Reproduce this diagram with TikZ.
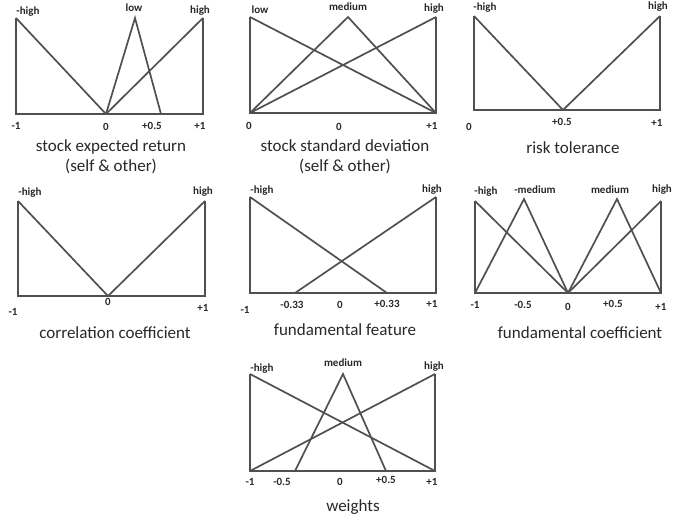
\documentclass[tikz,border=0pt]{standalone}
\usepackage{fontspec}
\setmainfont{Carlito}
\usepackage{xcolor}
\definecolor{mfgray}{RGB}{80,80,80}
\definecolor{mftext}{RGB}{40,40,40}
\usepackage{tikz}
\usetikzlibrary{positioning}

\begin{document}
\begin{tikzpicture}[x=1pt, y=-1pt,
    mfline/.style={draw=mfgray, line width=1.7pt, line join=miter},
    tag/.style={font=\fontsize{11}{12}\selectfont\bfseries, text=mftext, inner sep=0pt},
    tick/.style={font=\fontsize{11}{12}\selectfont\bfseries, text=mftext, inner sep=0pt},
    caption/.style={font=\fontsize{17}{20}\selectfont, text=mftext, align=center, inner sep=0pt}]
  \useasboundingbox (0,0) rectangle (697,519);

  % stock expected return
  \draw[mfline] (16,18) -- (16,114) -- (203,114) -- (203,18);
  \draw[mfline] (16,18) -- (106,114);
  \draw[mfline] (106,114) -- (135,18) -- (161,114);
  \draw[mfline] (106,114) -- (203,18);
  \node[tag] (ser-nh) at (28,12) {-high};
  \node[tag] (ser-lo) at (134,8) {low};
  \node[tag] (ser-hi) at (200,11) {high};
  \node[tick] (ser-t1) at (16,126) {-1};
  \node[tick] (ser-t2) at (106,127) {0};
  \node[tick] (ser-t3) at (152,126) {+0.5};
  \node[tick] (ser-t4) at (200,126) {+1};
  \node[caption] (ser) at (111,157) {stock expected return\\(self \& other)};

  % stock standard deviation
  \draw[mfline] (250,17) -- (250,113) -- (436,113) -- (436,17);
  \draw[mfline] (250,17) -- (436,113);
  \draw[mfline] (250,113) -- (348,17) -- (436,113);
  \draw[mfline] (250,113) -- (436,17);
  \node[tag] (ssd-lo) at (260,10) {low};
  \node[tag] (ssd-md) at (348,7) {medium};
  \node[tag] (ssd-hi) at (434,9) {high};
  \node[tick] (ssd-t1) at (249,126) {0};
  \node[tick] (ssd-t2) at (339,127) {0};
  \node[tick] (ssd-t3) at (432,126) {+1};
  \node[caption] (ssd) at (345,157) {stock standard deviation\\(self \& other)};

  % risk tolerance
  \draw[mfline] (474,16) -- (474,110) -- (660,110) -- (660,16);
  \draw[mfline] (474,16) -- (563,110) -- (660,16);
  \node[tag] (rt-nh) at (485,8) {-high};
  \node[tag] (rt-hi) at (658,7) {high};
  \node[tick] (rt-t1) at (469,127) {0};
  \node[tick] (rt-t2) at (562,122) {+0.5};
  \node[tick] (rt-t3) at (657,123) {+1};
  \node[caption] (rt) at (573,148) {risk tolerance};

  % correlation coefficient
  \draw[mfline] (18,201) -- (18,296) -- (205,296) -- (205,201);
  \draw[mfline] (18,201) -- (108,296) -- (205,201);
  \node[tag] (cc-nh) at (30,193) {-high};
  \node[tag] (cc-hi) at (203,192) {high};
  \node[tick] (cc-t1) at (13,312) {-1};
  \node[tick] (cc-t2) at (108,302) {0};
  \node[tick] (cc-t3) at (203,308) {+1};
  \node[caption] (cc) at (115,333) {correlation coefficient};

  % fundamental feature
  \draw[mfline] (250,197) -- (250,293) -- (436,293) -- (436,197);
  \draw[mfline] (250,197) -- (387,293);
  \draw[mfline] (295,293) -- (436,197);
  \node[tag] (ff-nh) at (262,191) {-high};
  \node[tag] (ff-hi) at (432,190) {high};
  \node[tick] (ff-t1) at (245,310) {-1};
  \node[tick] (ff-t2) at (292,305) {-0.33};
  \node[tick] (ff-t3) at (340,305) {0};
  \node[tick] (ff-t4) at (387,304) {+0.33};
  \node[tick] (ff-t5) at (432,304) {+1};
  \node[caption] (ff) at (345,330) {fundamental feature};

  % fundamental coefficient
  \draw[mfline] (475,201) -- (475,293) -- (661,293) -- (661,201);
  \draw[mfline] (475,201) -- (568,293);
  \draw[mfline] (475,293) -- (524,199) -- (568,293);
  \draw[mfline] (568,293) -- (617,199) -- (661,293);
  \draw[mfline] (568,293) -- (661,201);
  \node[tag] (fc-nh) at (486,192) {-high};
  \node[tag] (fc-nm) at (535,190) {-medium};
  \node[tag] (fc-md) at (610,190) {medium};
  \node[tag] (fc-hi) at (662,190) {high};
  \node[tick] (fc-t1) at (475,305) {-1};
  \node[tick] (fc-t2) at (523,305) {-0.5};
  \node[tick] (fc-t3) at (568,307) {0};
  \node[tick] (fc-t4) at (613,304) {+0.5};
  \node[tick] (fc-t5) at (661,307) {+1};
  \node[caption] (fc) at (580,333) {fundamental coefficient};

  % weights
  \draw[mfline] (250,374) -- (250,471) -- (435,471) -- (435,374);
  \draw[mfline] (250,374) -- (435,471);
  \draw[mfline] (250,471) -- (435,374);
  \draw[mfline] (295,471) -- (343,374) -- (386,471);
  \node[tag] (w-nh) at (262,369) {-high};
  \node[tag] (w-md) at (343,363) {medium};
  \node[tag] (w-hi) at (434,367) {high};
  \node[tick] (w-t1) at (250,482) {-1};
  \node[tick] (w-t2) at (282,482) {-0.5};
  \node[tick] (w-t3) at (340,482) {0};
  \node[tick] (w-t4) at (386,480) {+0.5};
  \node[tick] (w-t5) at (432,482) {+1};
  \node[caption] (w) at (353,507) {weights};
\end{tikzpicture}
\end{document}
